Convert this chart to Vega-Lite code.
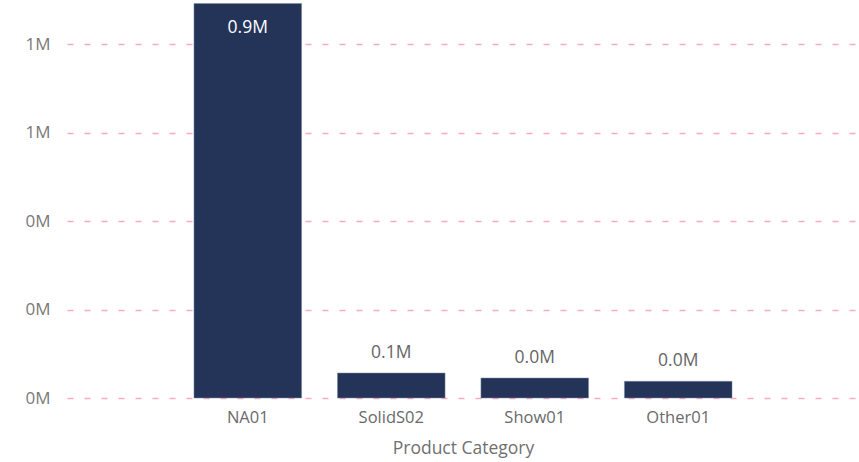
{
  "$schema": "https://vega.github.io/schema/vega-lite/v6.json",
  "autosize": "none",
  "width": 792,
  "height": 398,
  "padding": {"left": 67, "top": 0, "right": 0, "bottom": 64},
  "background": "white",
  "config": {
    "view": {"stroke": null},
    "font": "Open Sans"
  },
  "data": {
    "values": [
      {"category": "NA01", "value": 892000},
      {"category": "SolidS02", "value": 56500},
      {"category": "Show01", "value": 45200},
      {"category": "Other01", "value": 37800}
    ]
  },
  "transform": [
    {"calculate": "format(datum.value / 1000000, '.1f') + 'M'", "as": "label"}
  ],
  "encoding": {
    "x": {
      "field": "category",
      "type": "nominal",
      "sort": null,
      "scale": {"paddingInner": 0.25, "paddingOuter": 0.885},
      "axis": {
        "title": "Product Category",
        "titleFont": "Open Sans",
        "titleFontWeight": "normal",
        "titleFontSize": 17.5,
        "titleColor": "#707070",
        "titlePadding": 14,
        "labelAngle": 0,
        "labelFontSize": 16.5,
        "labelColor": "#6a6a6a",
        "labelPadding": 11,
        "ticks": false,
        "domain": false
      }
    },
    "y": {
      "field": "value",
      "type": "quantitative",
      "scale": {"domain": [0, 900000], "nice": false},
      "axis": {
        "title": null,
        "values": [0, 200000, 400000, 600000, 800000],
        "labelExpr": "format(datum.value / 1000000, '.0f') + 'M'",
        "labelFontSize": 17,
        "labelColor": "#7a7a7a",
        "labelPadding": 17,
        "ticks": false,
        "domain": false,
        "grid": true,
        "gridColor": "#f7abbc",
        "gridDash": [6, 11],
        "gridWidth": 1.5
      }
    }
  },
  "layer": [
    {
      "mark": {"type": "bar", "color": "#243458", "stroke": "#7d8aa5", "strokeWidth": 0.5}
    },
    {
      "transform": [{"filter": "datum.value > 300000"}],
      "mark": {"type": "text", "baseline": "top", "dy": 15, "fontSize": 17.5, "color": "white"},
      "encoding": {"text": {"field": "label"}}
    },
    {
      "transform": [{"filter": "datum.value <= 300000"}],
      "mark": {"type": "text", "baseline": "bottom", "dy": -11, "fontSize": 17.5, "color": "#666666"},
      "encoding": {"text": {"field": "label"}}
    }
  ]
}
